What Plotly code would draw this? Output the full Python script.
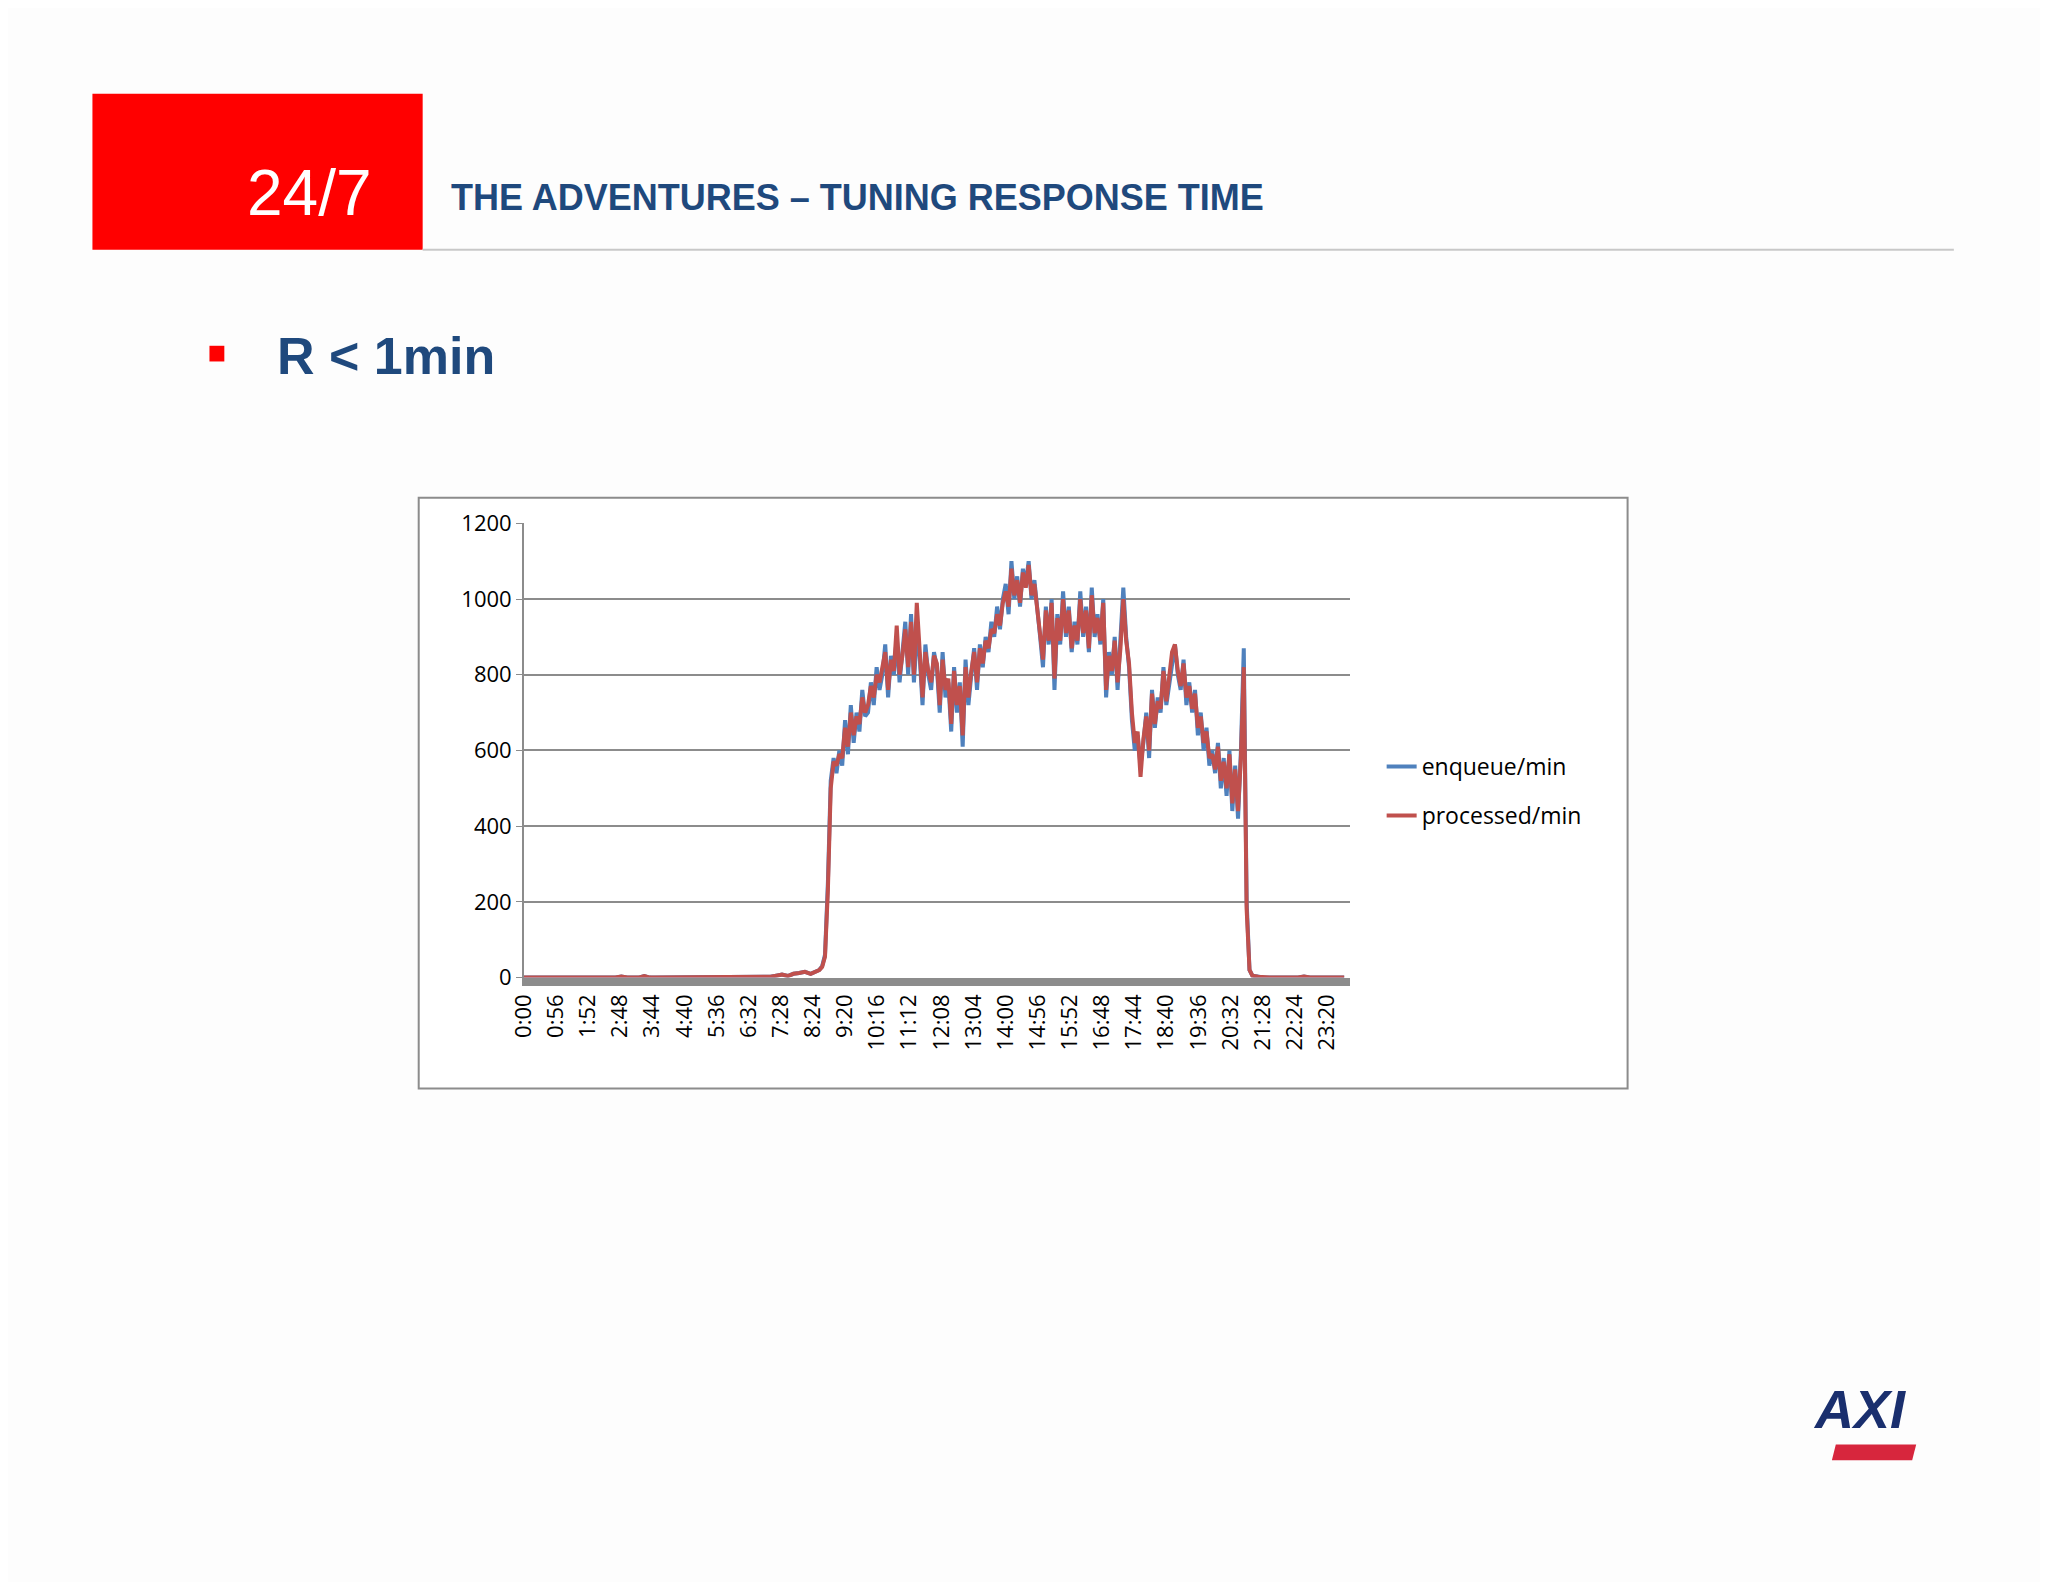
import plotly.graph_objects as go

# night: every 10 min 0:00-8:20, day: every 5 min 8:30-21:05, evening: every 10 min 21:10-23:50
minutes = list(range(0, 510, 10)) + list(range(510, 1270, 5)) + list(range(1270, 1440, 10))

enqueue = [
    0, 0, 0, 0, 0, 0,
    0, 0, 0, 0, 0, 0,
    0, 0, 0, 0, 0, 3,
    0, 0, 0, 4, 0, 0,
    0, 0, 0, 0, 0, 0,
    0, 0, 0, 0, 0, 0,
    0, 0, 0, 0, 2, 0,
    0, 2, 5, 8, 4, 10,
    12, 15, 10,
    15, 20, 30, 60, 250, 520,
    580, 540, 600, 560, 680, 590, 720, 620, 700, 650, 760, 690,
    700, 780, 720, 820, 760, 800, 880, 740, 850, 800, 900, 780,
    860, 940, 800, 960, 780, 900, 850, 720, 880, 800, 760, 860,
    820, 700, 860, 740, 780, 650, 820, 700, 780, 610, 840, 720,
    800, 870, 760, 880, 820, 900, 860, 940, 900, 980, 920, 1000,
    1040, 960, 1100, 1000, 1060, 980, 1080, 1040, 1100, 1000, 1050, 960,
    900, 820, 980, 880, 1000, 760, 960, 880, 1020, 900, 980, 860,
    940, 880, 1020, 900, 980, 860, 1030, 900, 960, 880, 1000, 740,
    860, 800, 900, 760, 880, 1030, 900, 820, 680, 600, 640, 560,
    620, 700, 580, 760, 660, 740, 700, 820, 720, 780, 840, 880,
    800, 760, 840, 720, 780, 700, 760, 640, 700, 600, 660, 560,
    600, 540, 620, 500, 580, 480, 600, 440, 560, 420, 600, 870,
    200, 20,
    5, 2, 0, 0, 0, 0, 0, 0, 0, 3, 0, 0, 0, 0, 0, 0, 0,
]
processed = [
    0, 0, 0, 0, 0, 0,
    0, 0, 0, 0, 0, 0,
    0, 0, 0, 0, 0, 3,
    0, 0, 0, 4, 0, 0,
    0, 0, 0, 0, 0, 0,
    0, 0, 0, 0, 0, 0,
    0, 0, 0, 0, 2, 0,
    0, 2, 5, 8, 4, 10,
    12, 15, 10,
    15, 20, 28, 55, 230, 500,
    570, 560, 590, 580, 660, 610, 700, 640, 690, 670, 740, 700,
    720, 770, 740, 800, 780, 820, 860, 760, 840, 810, 930, 800,
    850, 920, 820, 940, 800, 990, 840, 740, 860, 810, 780, 850,
    830, 720, 840, 760, 790, 670, 810, 720, 770, 640, 820, 740,
    810, 860, 780, 870, 830, 890, 870, 920, 910, 960, 930, 990,
    1020, 980, 1080, 1010, 1050, 990, 1070, 1030, 1090, 1010, 1040, 970,
    920, 840, 970, 890, 990, 790, 950, 890, 1000, 910, 970, 870,
    930, 890, 1000, 910, 970, 870, 1010, 910, 950, 890, 990, 760,
    850, 810, 890, 780, 870, 1000, 890, 830, 700, 620, 650, 530,
    630, 690, 600, 750, 670, 730, 710, 810, 730, 790, 860, 880,
    810, 770, 830, 740, 770, 710, 750, 660, 690, 620, 650, 580,
    590, 550, 610, 520, 570, 500, 590, 460, 550, 440, 580, 820,
    180, 20,
    5, 2, 0, 0, 0, 0, 0, 0, 0, 3, 0, 0, 0, 0, 0, 0, 0,
]
tick_minutes = list(range(0, 1440, 56))
tick_labels = [f"{m // 60}:{m % 60:02d}" for m in tick_minutes]

W, H = 2048, 1582
def px(x):
    return x / W
def py(y):
    return 1 - y / H

fig = go.Figure()
fig.add_trace(go.Scatter(x=minutes, y=enqueue, name="enqueue/min", mode="lines",
                         legendgroup="a", line=dict(color="#4F81BD", width=4)))
fig.add_trace(go.Scatter(x=minutes, y=processed, name="processed/min", mode="lines",
                         legendgroup="b", line=dict(color="#C0504D", width=4)))

fig.update_layout(
    width=W, height=H, margin=dict(l=0, r=0, t=0, b=0),
    paper_bgcolor="#fdfdfd", plot_bgcolor="white", showlegend=True,
    font=dict(family="Open Sans", color="black"),
    legend=dict(x=px(1368), y=py(735), xanchor="left", yanchor="top",
                font=dict(size=23), bgcolor="rgba(0,0,0,0)", tracegroupgap=16),
    xaxis=dict(domain=[px(503), px(1336)], range=[0, 1440], tickvals=tick_minutes,
               ticktext=tick_labels, tickangle=-90, tickfont=dict(size=22),
               showgrid=False, zeroline=False, showline=True, linecolor="#8c8c8c",
               linewidth=8),
    yaxis=dict(domain=[py(972), py(509)], range=[0, 1200], dtick=200,
               tickfont=dict(size=22), gridcolor="#8c8c8c", gridwidth=1.5,
               showline=True, linecolor="#8c8c8c", linewidth=1.5, zeroline=False,
               ticks="outside", ticklen=6, tickcolor="#8c8c8c"),
)

# chart frame
fig.add_shape(type="rect", xref="paper", yref="paper", x0=px(397), x1=px(1616),
              y0=py(1085), y1=py(483), line=dict(color="#8c8c8c", width=2),
              fillcolor="white", layer="below")
# header
fig.add_shape(type="rect", xref="paper", yref="paper", x0=px(68), x1=px(401),
              y0=py(230), y1=py(71), line=dict(width=0), fillcolor="#ff0000")
fig.add_shape(type="line", xref="paper", yref="paper", x0=px(401), x1=px(1945),
              y0=py(230), y1=py(230), line=dict(color="#c8c8c8", width=2))
fig.add_shape(type="rect", xref="paper", yref="paper", x0=px(186), x1=px(201),
              y0=py(344), y1=py(328), line=dict(width=0), fillcolor="#ff0000")
# AXI logo bar
fig.add_shape(type="path", xref="paper", yref="paper",
              path=f"M {px(1822)},{py(1464)} L {px(1903)},{py(1464)} "
                   f"L {px(1907)},{py(1448)} L {px(1826)},{py(1448)} Z",
              fillcolor="#d7263d", line=dict(width=0))

fig.add_annotation(text="24/7", x=px(287), y=py(172), xref="paper", yref="paper",
                   xanchor="center", yanchor="middle", showarrow=False,
                   font=dict(family="Liberation Sans", size=64, color="white"))
fig.add_annotation(text="<b>THE ADVENTURES – TUNING RESPONSE TIME</b>", x=px(428),
                   y=py(177), xref="paper", yref="paper", xanchor="left", yanchor="middle",
                   showarrow=False, font=dict(family="Liberation Sans", size=36, color="#1F497D"))
fig.add_annotation(text="<b>R < 1min</b>", x=px(252), y=py(338), xref="paper",
                   yref="paper", xanchor="left", yanchor="middle", showarrow=False,
                   font=dict(family="Liberation Sans", size=52, color="#1F497D"))
fig.add_annotation(text="<b><i>AXI</i></b>", x=px(1850), y=py(1412), xref="paper",
                   yref="paper", xanchor="center", yanchor="middle", showarrow=False,
                   font=dict(family="Liberation Sans", size=54, color="#1a2f6e"))

fig.write_html("out.html")
